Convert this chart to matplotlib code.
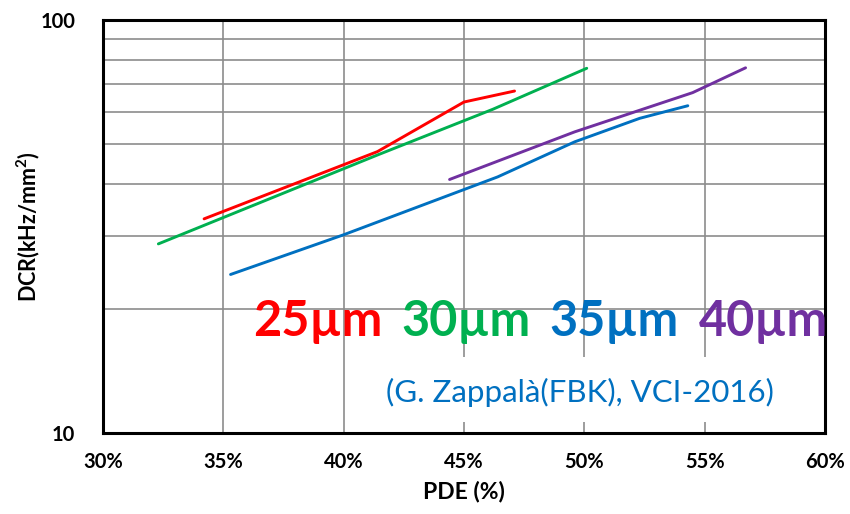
import matplotlib
matplotlib.use("Agg")
import matplotlib.pyplot as plt
from matplotlib.patches import Rectangle
from matplotlib.ticker import FixedLocator, NullFormatter

plt.rcParams['font.family'] = ['Lato', 'DejaVu Sans']

# PDE (%) vs dark count rate (kHz/mm^2) for each cell pitch
pde_25 = [34.2, 41.4, 45.0, 47.1]
dcr_25 = [33.0, 48.0, 63.3, 67.3]

pde_30 = [32.3, 41.4, 46.2, 50.1]
dcr_30 = [28.7, 47.1, 60.8, 76.4]

pde_35 = [35.3, 40.0, 44.4, 46.4, 49.6, 52.3, 54.3]
dcr_35 = [24.2, 30.2, 37.7, 41.7, 50.7, 57.8, 62.0]

pde_40 = [44.4, 49.6, 54.5, 56.7]
dcr_40 = [41.1, 53.6, 66.7, 76.6]

series = [
    (pde_25, dcr_25, '#FF0000', '25µm'),
    (pde_30, dcr_30, '#00B050', '30µm'),
    (pde_35, dcr_35, '#0070C0', '35µm'),
    (pde_40, dcr_40, '#7030A0', '40µm'),
]
x_ticks = [30, 35, 40, 45, 50, 55, 60]
minor_y = [20, 30, 40, 50, 60, 70, 80, 90]

fig = plt.figure(figsize=(8.5, 5.14), dpi=100)
ax = fig.add_axes([103 / 850, 81 / 514, 722 / 850, 413 / 514])

for x, y, c, _ in series:
    ax.plot(x, y, color=c, lw=2.1, solid_capstyle='round', zorder=3)

ax.set_yscale('log')
ax.set_xlim(30, 60)
ax.set_ylim(10, 100)

ax.set_xticks(x_ticks)
ax.set_xticklabels([f'{v}%' for v in x_ticks], fontsize=14.5, fontweight='bold')
ax.set_yticks([10, 100])
ax.set_yticklabels(['10', '100'], fontsize=14.5, fontweight='bold')
ax.yaxis.set_minor_locator(FixedLocator(minor_y))
ax.yaxis.set_minor_formatter(NullFormatter())
ax.tick_params(which='both', length=0)
ax.tick_params(axis='x', pad=14)
ax.tick_params(axis='y', pad=20)

ax.grid(True, which='major', axis='x', color='#8c8c8c', lw=1.2)
ax.grid(True, which='minor', axis='y', color='#8c8c8c', lw=1.2)
ax.set_axisbelow(True)
for s in ax.spines.values():
    s.set_linewidth(2.2)
    s.set_color('black')

ax.set_xlabel('PDE (%)', fontsize=16.5, fontweight='bold', labelpad=6)
ax.set_ylabel('DCR(kHz/mm$^\\mathregular{2}$)', fontsize=15.5, fontweight='bold')
ax.yaxis.set_label_coords(-0.085, 0.5)

# white text box behind the reference line
ax.add_patch(Rectangle(((370 - 103) / 722, (433 - 422) / 413), 425 / 722, 65 / 413,
                       transform=ax.transAxes, facecolor='white', edgecolor='none', zorder=2))

label_x = [318, 466, 614, 763]
for (_, _, c, name), px in zip(series, label_x):
    fig.text(px / 850, 1 - 322 / 514, name, color=c, fontsize=35, fontweight='bold',
             ha='center', va='center')

fig.text(580 / 850, 1 - 392 / 514, '(G. Zappalà(FBK), VCI-2016)', color='#0070C0',
         fontsize=22.5, ha='center', va='center')

fig.savefig('out.png', dpi=100, facecolor='white')
